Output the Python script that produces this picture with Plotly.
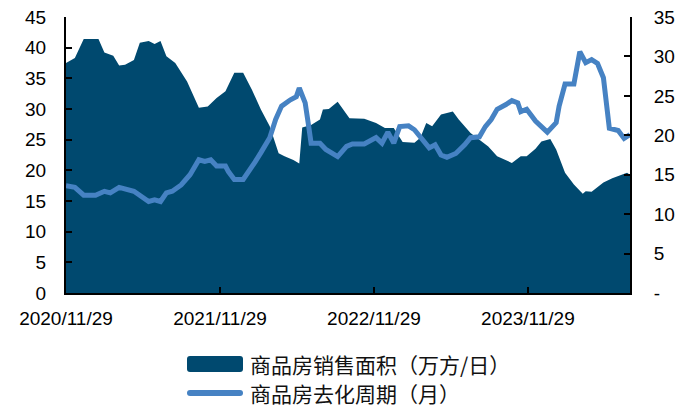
import plotly.graph_objects as go

# 商品房销售面积（万方/日），周度
sales_dates = [
    "2020-11-29", "2020-12-20", "2021-01-10", "2021-02-14", "2021-02-28", "2021-03-21",
    "2021-04-04", "2021-04-18", "2021-05-09", "2021-05-23", "2021-06-13", "2021-06-27",
    "2021-07-11", "2021-07-25", "2021-08-15", "2021-09-12", "2021-10-10", "2021-10-31",
    "2021-11-21", "2021-12-12", "2022-01-02", "2022-01-23", "2022-02-13", "2022-03-06",
    "2022-03-27", "2022-04-17", "2022-05-01", "2022-05-22", "2022-06-05", "2022-06-12",
    "2022-07-03", "2022-07-24", "2022-07-31", "2022-08-14", "2022-09-04", "2022-09-25",
    "2022-10-02", "2022-11-06", "2022-12-04", "2022-12-25", "2023-01-15", "2023-02-05",
    "2023-03-05", "2023-03-19", "2023-04-02", "2023-04-16", "2023-04-30", "2023-05-07",
    "2023-06-04", "2023-06-18", "2023-07-16", "2023-08-06", "2023-08-27", "2023-09-17",
    "2023-10-22", "2023-11-12", "2023-11-26", "2023-12-17", "2023-12-31", "2024-01-21",
    "2024-02-04", "2024-02-25", "2024-03-17", "2024-04-07", "2024-04-14", "2024-04-28",
    "2024-05-26", "2024-06-16", "2024-07-07", "2024-07-21", "2024-07-28",
]
sales_area = [
    37.5, 38.3, 41.4, 41.4, 39.2, 38.7,
    37.1, 37.2, 38.0, 40.8, 41.1, 40.6,
    41.1, 38.6, 37.5, 34.5, 30.2, 30.4,
    31.8, 32.9, 35.9, 35.9, 33.1, 29.9,
    27.2, 22.8, 22.3, 21.7, 21.1, 27.0,
    27.4, 28.3, 29.9, 30.0, 31.2, 29.3,
    28.5, 28.4, 27.7, 26.9, 26.9, 24.6,
    24.5, 25.3, 27.7, 27.2, 28.5, 29.1,
    29.6, 28.3, 26.1, 25.0, 23.9, 22.3,
    21.2, 22.3, 22.3, 23.5, 24.7, 25.1,
    23.4, 19.6, 17.7, 16.2, 16.6, 16.5,
    18.0, 18.7, 19.2, 19.6, 19.3,
]

# 商品房去化周期（月）
cycle_dates = [
    "2020-11-29", "2020-12-20", "2021-01-10", "2021-02-07", "2021-02-28", "2021-03-14",
    "2021-04-04", "2021-05-09", "2021-06-13", "2021-06-27", "2021-07-11", "2021-07-25",
    "2021-08-08", "2021-08-29", "2021-09-19", "2021-10-10", "2021-10-24", "2021-11-07",
    "2021-11-21", "2021-12-12", "2021-12-19", "2022-01-02", "2022-01-23", "2022-02-06",
    "2022-02-20", "2022-03-06", "2022-03-27", "2022-04-10", "2022-04-24", "2022-05-15",
    "2022-05-29", "2022-06-05", "2022-06-19", "2022-06-26", "2022-07-03", "2022-07-24",
    "2022-08-07", "2022-09-04", "2022-09-25", "2022-10-09", "2022-11-06", "2022-12-04",
    "2022-12-18", "2023-01-01", "2023-01-15", "2023-01-29", "2023-02-19", "2023-03-05",
    "2023-03-26", "2023-04-09", "2023-04-23", "2023-05-07", "2023-05-21", "2023-06-11",
    "2023-07-02", "2023-07-16", "2023-08-06", "2023-08-20", "2023-09-03", "2023-09-17",
    "2023-10-08", "2023-10-22", "2023-11-05", "2023-11-12", "2023-11-26", "2023-12-17",
    "2024-01-14", "2024-02-04", "2024-02-11", "2024-02-25", "2024-03-17", "2024-03-31",
    "2024-04-14", "2024-04-28", "2024-05-12", "2024-05-26", "2024-06-09", "2024-06-30",
    "2024-07-14", "2024-07-28",
]
cycle_months = [
    13.6, 13.4, 12.4, 12.4, 12.9, 12.7,
    13.4, 12.9, 11.6, 11.8, 11.6, 12.7,
    12.9, 13.7, 15.0, 16.9, 16.7, 16.9,
    16.1, 16.1, 15.4, 14.4, 14.4, 15.4,
    16.6, 17.8, 19.7, 22.0, 23.7, 24.5,
    24.9, 26.0, 24.1, 21.6, 19.0, 19.0,
    18.2, 17.3, 18.6, 18.9, 18.9, 19.7,
    19.0, 20.4, 19.0, 21.1, 21.2, 20.7,
    19.2, 18.4, 18.8, 17.5, 17.2, 17.7,
    18.8, 19.7, 19.8, 21.1, 22.0, 23.3,
    23.9, 24.4, 24.1, 23.0, 23.3, 21.8,
    20.4, 21.6, 23.7, 26.5, 26.5, 30.6,
    29.2, 29.6, 29.1, 27.3, 20.9, 20.6,
    19.6, 20.1,
]

x_tick_vals = ["2020-11-29", "2021-11-29", "2022-11-29", "2023-11-29"]
x_tick_text = ["2020/11/29", "2021/11/29", "2022/11/29", "2023/11/29"]
left_ticks = [0, 5, 10, 15, 20, 25, 30, 35, 40, 45]
right_ticks = [0, 5, 10, 15, 20, 25, 30, 35]
right_tick_text = ["-", "5", "10", "15", "20", "25", "30", "35"]

legend_names = ["商品房销售面积（万方/日）", "商品房去化周期（月）"]

AREA_COLOR = "#00496f"
LINE_COLOR = "#4682c3"
TICK_FONT = dict(family="Liberation Sans, Arial, sans-serif", size=19, color="#000000")

fig = go.Figure()
fig.add_trace(go.Scatter(
    x=sales_dates, y=sales_area, mode="lines", fill="tozeroy",
    line=dict(width=0, color=AREA_COLOR), fillcolor=AREA_COLOR,
    name=legend_names[0], showlegend=False, yaxis="y",
))
fig.add_trace(go.Scatter(
    x=cycle_dates, y=cycle_months, mode="lines",
    line=dict(width=5, color=LINE_COLOR),
    name=legend_names[1], showlegend=False, yaxis="y2",
))

axis_common = dict(
    showgrid=False, zeroline=False, showline=True, linecolor="#000000", linewidth=2,
    ticks="inside", ticklen=6, tickwidth=2, tickcolor="#000000", tickfont=TICK_FONT,
    automargin=False,
)

fig.update_layout(
    width=676, height=409,
    margin=dict(l=66, r=46, t=17, b=116),
    paper_bgcolor="#ffffff", plot_bgcolor="#ffffff",
    xaxis=dict(
        type="date", range=["2020-11-29", "2024-07-28"],
        tickmode="array", tickvals=x_tick_vals, ticktext=x_tick_text,
        ticklabelstandoff=7, **axis_common,
    ),
    yaxis=dict(
        range=[0, 45], tickmode="array", tickvals=left_ticks,
        ticklabelstandoff=14, **axis_common,
    ),
    yaxis2=dict(
        range=[0, 35], overlaying="y", side="right", tickmode="array",
        tickvals=right_ticks, ticktext=right_tick_text,
        ticklabelstandoff=18, **axis_common,
    ),
)


def rounded_bar(w, h, r):
    """Rounded rectangle path in pixels, centred on its anchor point."""
    x0, x1, y0, y1 = -w / 2, w / 2, -h / 2, h / 2
    return (
        f"M{x0 + r},{y0} L{x1 - r},{y0} Q{x1},{y0} {x1},{y0 + r} "
        f"L{x1},{y1 - r} Q{x1},{y1} {x1 - r},{y1} L{x0 + r},{y1} "
        f"Q{x0},{y1} {x0},{y1 - r} L{x0},{y0 + r} Q{x0},{y0} {x0 + r},{y0} Z"
    )


# legend drawn below the plot: swatch + label for each series
plot_w, plot_h = 676 - 66 - 46, 409 - 17 - 116
swatch_cx = (215 - 66) / plot_w
label_x = (248 - 66) / plot_w
rows = [(364, 16, 3, AREA_COLOR), (393, 6, 3, LINE_COLOR)]
for (py, h, r, color), text in zip(rows, legend_names):
    cy = (293 - py) / plot_h
    fig.add_shape(
        type="path", xref="paper", yref="paper",
        xsizemode="pixel", ysizemode="pixel", xanchor=swatch_cx, yanchor=cy,
        path=rounded_bar(56, h, r),
        fillcolor=color, line=dict(width=0),
    )
    fig.add_annotation(
        x=label_x, y=cy, xref="paper", yref="paper", xanchor="left", yanchor="middle",
        text=text, showarrow=False,
        font=dict(family="Noto Sans CJK SC", size=21, color="#111111"),
    )

fig.write_html("out.html")
